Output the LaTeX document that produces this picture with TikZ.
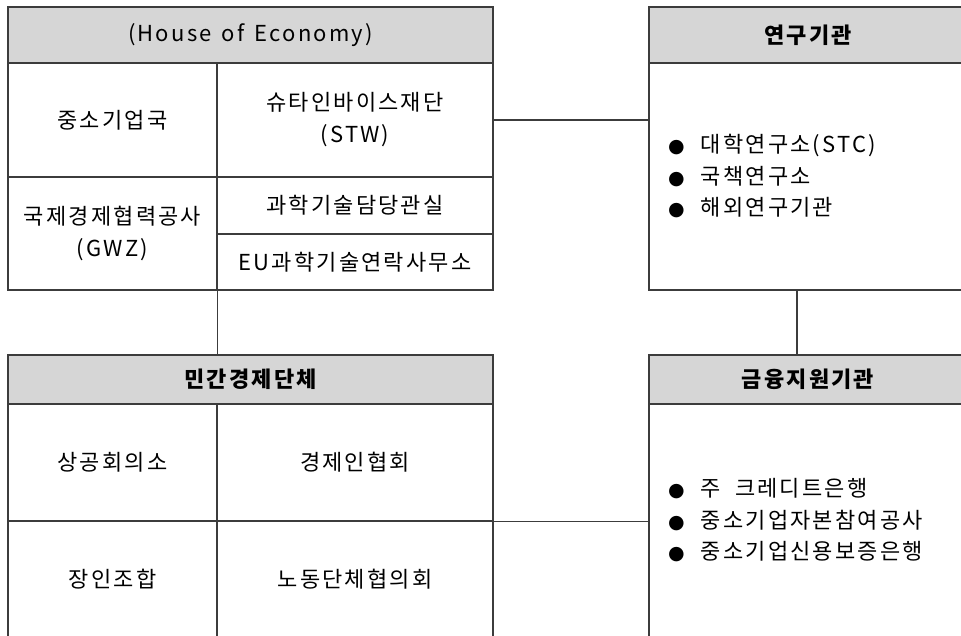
\documentclass[tikz,border=0pt]{standalone}
\usepackage{fontspec}
\setmainfont{Noto Sans CJK KR}[LetterSpace=10]
\newfontfamily\symfont{DejaVu Sans}
\usepackage{tikz}
\definecolor{hdrgray}{RGB}{214,214,214}
\definecolor{linegray}{RGB}{60,60,60}
\newcommand{\blt}{{\symfont\fontsize{19}{19}\selectfont ●}\hspace{16pt}}

\begin{document}
\begin{tikzpicture}[x=1pt,y=-1pt,
  cell/.style={draw=linegray,line width=1.1pt,rectangle,inner sep=0pt,align=center,font=\fontsize{22}{32}\selectfont},
  head/.style={cell,fill=hdrgray,font=\fontsize{22}{26}\selectfont\bfseries},
  items/.style={anchor=west,align=left,inner sep=0pt,font=\fontsize{22}{31.5}\selectfont},
  link/.style={draw=linegray,line width=1.1pt}]
\useasboundingbox (0,0) rectangle (961,636);
\clip (0,0) rectangle (961,636);

\node[head,font=\fontsize{22}{26}\selectfont,minimum width=485pt,minimum height=56pt] (hoe) at (250.5,35) {(House\hspace{3pt} of\hspace{3pt} Economy)};
\node[cell,minimum width=209pt,minimum height=114pt] (smeb) at (112.5,120) {중소기업국};
\node[cell,minimum width=276pt,minimum height=114pt] (stw) at (355,120) {슈타인바이스재단\\(STW)};
\node[cell,minimum width=209pt,minimum height=113pt] (gwz) at (112.5,233.5) {국제경제협력공사\\(GWZ)};
\node[cell,minimum width=276pt,minimum height=57pt] (sci) at (355,205.5) {과학기술담당관실};
\node[cell,minimum width=276pt,minimum height=56pt] (euo) at (355,262) {EU과학기술연락사무소};

\node[head,minimum width=318pt,minimum height=56pt] (rhead) at (808,35) {연구기관};
\node[cell,minimum width=318pt,minimum height=227pt] (rbody) at (808,176.5) {};
\node[items] (rlist) at (668,176.5) {\blt 대학연구소(STC)\\\blt 국책연구소\\\blt 해외연구기관};

\node[head,minimum width=485pt,minimum height=49pt] (phead) at (250.5,379.5) {민간경제단체};
\node[cell,minimum width=209pt,minimum height=117pt] (chamber) at (112.5,462.5) {상공회의소};
\node[cell,minimum width=276pt,minimum height=117pt] (econ) at (355,462.5) {경제인협회};
\node[cell,minimum width=209pt,minimum height=117pt] (craft) at (112.5,579.5) {장인조합};
\node[cell,minimum width=276pt,minimum height=117pt] (labor) at (355,579.5) {노동단체협의회};

\node[head,minimum width=318pt,minimum height=49pt] (fhead) at (808,379.5) {금융지원기관};
\node[cell,minimum width=318pt,minimum height=234pt] (fbody) at (808,521) {};
\node[items] (flist) at (668,520.5) {\blt 주\hspace{14pt}크레디트은행\\\blt 중소기업자본참여공사\\\blt 중소기업신용보증은행};

\coordinate (rlink) at (797,290);
\draw[link] (stw.east) -- (stw.east -| rbody.west);
\draw[link] (gwz.south east) -- (gwz.south east |- phead.north);
\draw[link] (rlink) -- (rlink |- fhead.north);
\draw[link] (econ.south east) -- (econ.south east -| fbody.west);
\end{tikzpicture}
\end{document}
